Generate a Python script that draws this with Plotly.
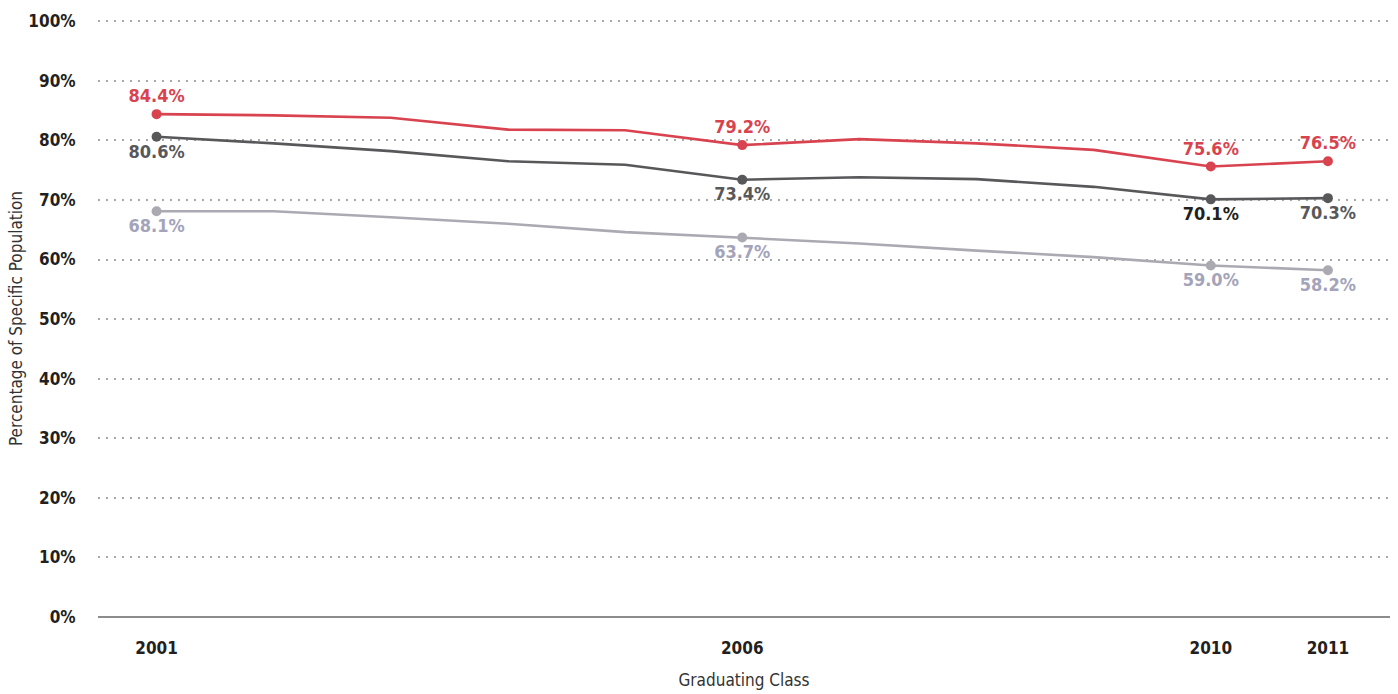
import plotly.graph_objects as go

# Graduating class years and rates (percent) for three populations
years = [2001, 2002, 2003, 2004, 2005, 2006, 2007, 2008, 2009, 2010, 2011]
upper = [84.4, 84.2, 83.8, 81.8, 81.7, 79.2, 80.2, 79.5, 78.4, 75.6, 76.5]
middle = [80.6, 79.5, 78.2, 76.5, 75.9, 73.4, 73.8, 73.5, 72.2, 70.1, 70.3]
lower = [68.1, 68.1, 67.1, 66.0, 64.6, 63.7, 62.7, 61.5, 60.4, 59.0, 58.2]

# Years that carry a marker and a value label
labeled_years = [2001, 2006, 2010, 2011]
tick_years = [2001, 2006, 2010, 2011]
y_ticks = list(range(0, 101, 10))

FONT = "DejaVu Sans Condensed, Liberation Sans Narrow, Roboto, sans-serif"

series = [
    dict(values=upper, line="#d8434f", label_colors=["#d8434f"] * 4, pos="top center"),
    dict(values=middle, line="#58585a", label_colors=["#58585a", "#58585a", "#231f20", "#58585a"], pos="bottom center"),
    dict(values=lower, line="#abaab2", label_colors=["#a3a3ba"] * 4, pos="bottom center"),
]

fig = go.Figure()
for s in series:
    fig.add_trace(go.Scatter(
        x=years, y=s["values"], mode="lines",
        line=dict(color=s["line"], width=2.6),
        hoverinfo="skip", showlegend=False,
    ))
    pts = [s["values"][years.index(y)] for y in labeled_years]
    fig.add_trace(go.Scatter(
        x=labeled_years, y=pts, mode="markers+text",
        marker=dict(color=s["line"], size=10),
        text=[f"{v:.1f}%" for v in pts],
        textposition=s["pos"],
        textfont=dict(family=FONT, size=18, color=s["label_colors"], weight="bold"),
        cliponaxis=False, showlegend=False,
    ))

fig.update_layout(
    width=1398, height=694,
    margin=dict(l=98, r=8, t=20, b=74),
    paper_bgcolor="white", plot_bgcolor="white",
    font=dict(family=FONT, color="#333333"),
    xaxis=dict(
        range=[2000.5, 2011.53],
        tickmode="array", tickvals=tick_years, ticktext=[str(y) for y in tick_years],
        tickfont=dict(family=FONT, size=17, color="#231f20", weight="bold"),
        ticks="outside", ticklen=16, tickcolor="rgba(0,0,0,0)",
        showgrid=False, zeroline=False, showline=False,
        title=dict(text="Graduating Class", font=dict(family=FONT, size=17, color="#333333"), standoff=16),
    ),
    yaxis=dict(
        range=[0, 100.2],
        tickmode="array", tickvals=y_ticks, ticktext=[f"{v}%" for v in y_ticks],
        tickfont=dict(family=FONT, size=17, color="#231f20", weight="bold"),
        ticks="outside", ticklen=18, tickcolor="rgba(0,0,0,0)",
        showgrid=True, gridcolor="#a8a8a8", gridwidth=1.5, griddash="2px,6px",
        zeroline=True, zerolinecolor="#8c8c8c", zerolinewidth=2,
        showline=False,
        title=dict(text="Percentage of Specific Population", font=dict(family=FONT, size=17, color="#333333"), standoff=1),
    ),
)

fig.write_html("out.html")
